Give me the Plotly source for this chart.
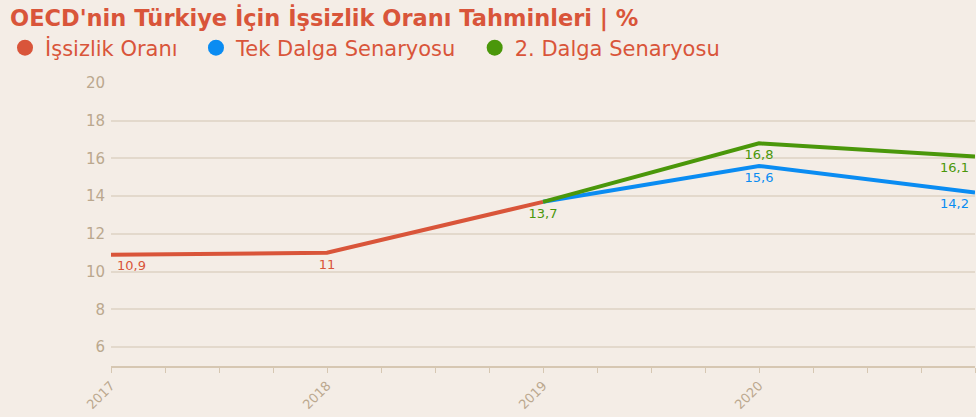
import plotly.graph_objects as go

# ─── Data ─────────────────────────────────────────────────────────────────────
years_actual = [2017, 2018, 2019]
rate_actual = [10.9, 11.0, 13.7]

years_forecast = [2019, 2020, 2021]
rate_single_wave = [13.7, 15.6, 14.2]
rate_second_wave = [13.7, 16.8, 16.1]

x_tick_vals = [2017, 2018, 2019, 2020, 2021]
x_tick_text = ["2017", "2018", "2019", "2020", "2021"]
y_tick_vals = [6, 8, 10, 12, 14, 16, 18, 20]

# ─── Theme ────────────────────────────────────────────────────────────────────
_BG = "#f4ede6"
_GRID = "#e3d9cc"
_AXIS = "#d6c7b2"
_TICK = "#bba88e"
_TITLE = "#d9553a"

_RED = "#d9553a"
_BLUE = "#0a8cf2"
_GREEN = "#4a970a"

_FONT = "DejaVu Sans"
_NBSP = "\u00a0"


def fmt(v):
    return f"{v:g}".replace(".", ",")


def line_trace(x, y, color, labels, positions):
    return go.Scatter(
        x=x,
        y=y,
        mode="lines+markers+text",
        line=dict(color=color, width=4),
        marker=dict(size=8, color="rgba(0,0,0,0)"),
        text=labels,
        textposition=positions,
        textfont=dict(color=color, size=13, family=_FONT),
        showlegend=False,
        cliponaxis=False,
        hoverinfo="skip",
    )


fig = go.Figure()

# İşsizlik Oranı
fig.add_trace(line_trace(
    years_actual, rate_actual, _RED,
    [fmt(v) for v in rate_actual[:2]] + [""],
    ["bottom right", "bottom center", "bottom center"],
))

# Tek Dalga Senaryosu
fig.add_trace(line_trace(
    years_forecast, rate_single_wave, _BLUE,
    [""] + [fmt(v) for v in rate_single_wave[1:]],
    ["bottom center", "bottom center", "bottom left"],
))

# 2. Dalga Senaryosu
fig.add_trace(line_trace(
    years_forecast, rate_second_wave, _GREEN,
    [fmt(v) for v in rate_second_wave],
    ["bottom center", "bottom center", "bottom left"],
))

# Legend entries drawn as round markers (trailing spaces widen the gaps)
for name, color, pad in [
    ("İşsizlik Oranı", _RED, 2),
    ("Tek Dalga Senaryosu", _BLUE, 2),
    ("2. Dalga Senaryosu", _GREEN, 0),
]:
    fig.add_trace(go.Scatter(
        x=[None], y=[None],
        mode="markers",
        marker=dict(color=color, size=18, symbol="circle"),
        name=name + _NBSP * pad,
        showlegend=True,
    ))

fig.update_layout(
    width=976,
    height=417,
    paper_bgcolor=_BG,
    plot_bgcolor=_BG,
    font=dict(family=_FONT, color=_TICK),
    margin=dict(l=111, r=1, t=82, b=51, autoexpand=False),
    title=dict(
        text="<b>OECD'nin Türkiye İçin İşsizlik Oranı Tahminleri | %</b>",
        xref="container", yref="container",
        x=10 / 976, y=1 - 18 / 417,
        xanchor="left", yanchor="middle",
        font=dict(size=22.5, color=_TITLE, family=_FONT),
    ),
    legend=dict(
        orientation="h",
        x=-106 / 864, y=1 + (82 - 48) / 284,
        xanchor="left", yanchor="middle",
        font=dict(size=21, color=_TITLE, family=_FONT),
        bgcolor="rgba(0,0,0,0)",
        itemsizing="trace",
    ),
    xaxis=dict(
        range=[2017, 2021],
        tickvals=x_tick_vals,
        ticktext=x_tick_text,
        tickangle=-45,
        ticks="outside",
        ticklen=5,
        tickcolor=_AXIS,
        tickfont=dict(size=13, color=_TICK),
        showgrid=False,
        showline=True,
        linecolor=_AXIS,
        linewidth=2,
        zeroline=False,
        automargin=False,
        minor=dict(dtick=0.25, ticks="outside", ticklen=5, tickcolor=_AXIS, showgrid=False),
    ),
    yaxis=dict(
        range=[5.0, 20.05],
        tickvals=y_tick_vals,
        tickfont=dict(size=15, color=_TICK),
        gridcolor=_GRID,
        gridwidth=1.5,
        showline=False,
        zeroline=False,
        automargin=False,
        ticks="",
        ticklabelstandoff=5,
    ),
)

fig.write_html(
    "out.html",
    config={"displayModeBar": False},
    post_script="document.body.style.margin='0';document.body.style.overflow='hidden';",
)
